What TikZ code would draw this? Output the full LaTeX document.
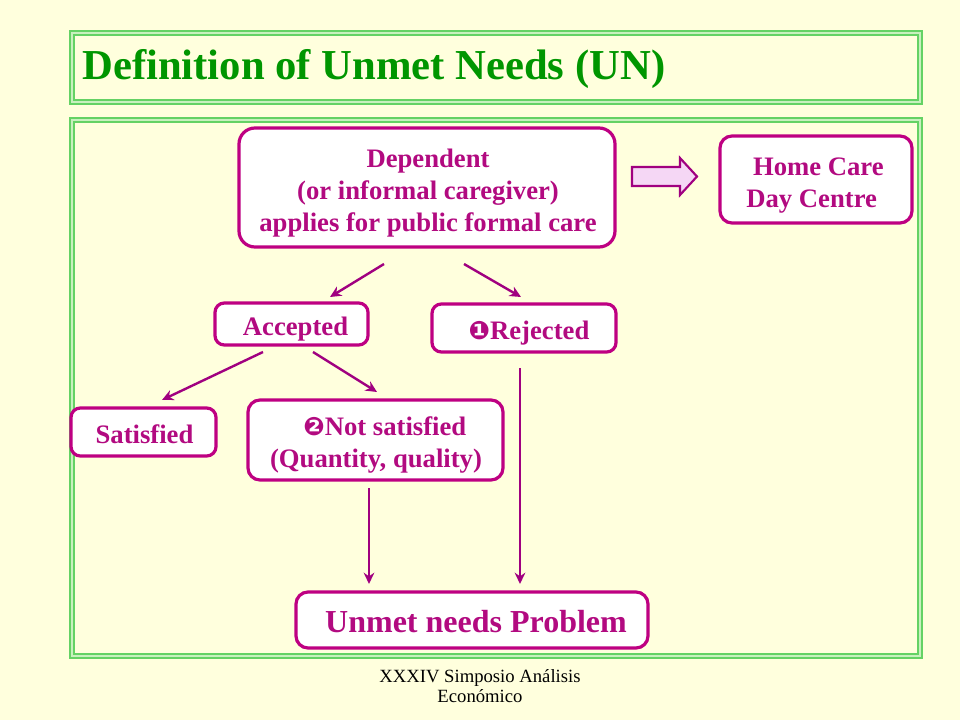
\documentclass[tikz,border=0pt]{standalone}
\usepackage{fontspec}
\setmainfont{Liberation Serif}
\newfontfamily\dvfont{DejaVu Sans}
\usetikzlibrary{arrows.meta}
\definecolor{bgc}{RGB}{255,255,221}
\definecolor{magb}{RGB}{190,0,130}
\definecolor{magt}{RGB}{178,10,128}
\definecolor{arrc}{RGB}{160,0,128}
\definecolor{grn}{RGB}{0,150,0}
\definecolor{frl}{RGB}{100,210,100}
\definecolor{frp}{RGB}{200,240,190}
\definecolor{pinkf}{RGB}{245,215,245}
\tikzset{
  box/.style={draw=magb, line width=2.4pt, fill=white, rounded corners=#1, inner sep=0pt},
  box/.default=7pt,
  lbl/.style={inner sep=0pt, align=center, text=magt, font=\fontsize{20}{24}\selectfont\bfseries},
  conn/.style={draw=arrc, line width=1.8pt, -{Stealth[length=8.5pt,width=8pt]}},
}
\newcommand{\frm}[4]{%
  \draw[frp, line width=3pt] (#1+2,#2+2) rectangle (#3-2,#4-2);
  \draw[frl, line width=1.1pt] (#1,#2) rectangle (#3,#4);
  \draw[frl, line width=1.1pt] (#1+4,#2+4) rectangle (#3-4,#4-4);}
\newcommand{\dn}[1]{{\dvfont\fontsize{19}{20}\selectfont #1}}
\begin{document}
\begin{tikzpicture}[x=0.75pt,y=-0.75pt]
\useasboundingbox (0,0) rectangle (960,720);
\fill[bgc] (0,0) rectangle (960,720);
% frames
\frm{70}{31}{922}{104}
\frm{70}{118}{922}{658}
\node[anchor=west, text=grn, font=\fontsize{32}{38}\selectfont\bfseries, inner sep=0pt] (title) at (82,69) {Definition of Unmet Needs (UN)};
% boxes
\node[box=12pt, minimum width=376*0.75pt, minimum height=119*0.75pt] (dep) at (427,187.5) {};
\node[box=9pt, minimum width=192*0.75pt, minimum height=87*0.75pt] (home) at (816,179.5) {};
\node[box, minimum width=153*0.75pt, minimum height=42*0.75pt] (acc) at (291.5,324) {};
\node[box, minimum width=184*0.75pt, minimum height=48*0.75pt] (rej) at (524,328) {};
\node[box, minimum width=145*0.75pt, minimum height=48*0.75pt] (sat) at (143.5,432) {};
\node[box=9pt, minimum width=255*0.75pt, minimum height=80*0.75pt] (nsat) at (375.5,440) {};
\node[box=9pt, minimum width=352*0.75pt, minimum height=56*0.75pt] (unmet) at (472,620) {};
% labels
\node[lbl] (depT) at (428,193) {Dependent\\(or informal caregiver)\\applies for public formal care};
\node[lbl, align=left] (homeT) at (815,185.5) {\ Home Care\\Day Centre};
\node[lbl] (accT) at (295.5,329) {Accepted};
\node[lbl] (rejT) at (529,333) {\dn{❶}Rejected};
\node[lbl] (satT) at (144.5,434) {Satisfied};
\node[lbl] (nsatT) at (376,445) {\ \ \,\dn{❷}Not satisfied\\(Quantity, quality)};
\node[lbl, font=\fontsize{24}{28}\selectfont\bfseries] (unmetT) at (476,622) {Unmet needs Problem};
% block arrow
\draw[draw=arrc, fill=pinkf, line width=1.6pt, line join=miter]
  (632,167) -- (680,167) -- (680,158) -- (697,176.5) -- (680,195) -- (680,186) -- (632,186) -- cycle;
\coordinate (blk) at (664,176.5);
% coordinates for arrows
\coordinate (d1) at (384,264); \coordinate (d1e) at (330,297);
\coordinate (d2) at (464,264); \coordinate (d2e) at (521,297);
\coordinate (a1) at (263,352); \coordinate (a1e) at (162,400);
\coordinate (a2) at (313,352); \coordinate (a2e) at (377,392);
\coordinate (n1) at (369,488); \coordinate (n1e) at (369,584);
\coordinate (r1) at (520,368); \coordinate (r1e) at (520,584);
\draw[conn] (d1) -- (d1e);
\draw[conn] (d2) -- (d2e);
\draw[conn] (a1) -- (a1e);
\draw[conn] (a2) -- (a2e);
\draw[conn] (n1) -- (n1e);
\draw[conn] (r1) -- (r1e);
% footer
\node[align=center, font=\fontsize{14}{14.5}\selectfont, inner sep=0pt] (foot) at (480,686) {XXXIV Simposio Análisis\\Económico};
\end{tikzpicture}
\end{document}
